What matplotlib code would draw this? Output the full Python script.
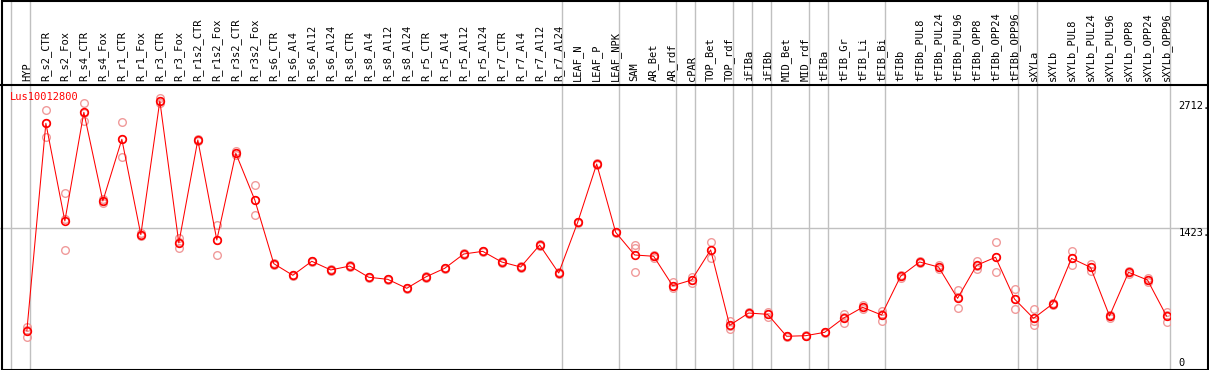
import matplotlib
matplotlib.use("Agg")
import matplotlib.pyplot as plt
from matplotlib.patches import Rectangle
from matplotlib.lines import Line2D

W, H = 1209, 370

gene = "Lus10012800"

samples = [
    "HYP",
    "R_s2_CTR", "R_s2_Fox", "R_s4_CTR", "R_s4_Fox", "R_r1_CTR", "R_r1_Fox",
    "R_r3_CTR", "R_r3_Fox", "R_r1s2_CTR", "R_r1s2_Fox", "R_r3s2_CTR", "R_r3s2_Fox",
    "R_s6_CTR", "R_s6_Al4", "R_s6_Al12", "R_s6_Al24",
    "R_s8_CTR", "R_s8_Al4", "R_s8_Al12", "R_s8_Al24",
    "R_r5_CTR", "R_r5_Al4", "R_r5_Al12", "R_r5_Al24",
    "R_r7_CTR", "R_r7_Al4", "R_r7_Al12", "R_r7_Al24",
    "LEAF_N", "LEAF_P", "LEAF_NPK",
    "SAM", "AR_Bet", "AR_rdf", "cPAR", "TOP_Bet", "TOP_rdf", "iFIBa", "iFIBb",
    "MID_Bet", "MID_rdf", "tFIBa", "tFIB_Gr", "tFIB_Li", "tFIB_Bi",
    "tFIBb", "tFIBb_PUL8", "tFIBb_PUL24", "tFIBb_PUL96",
    "tFIBb_OPP8", "tFIBb_OPP24", "tFIBb_OPP96",
    "sXYLa", "sXYLb", "sXYLb_PUL8", "sXYLb_PUL24", "sXYLb_PUL96",
    "sXYLb_OPP8", "sXYLb_OPP24", "sXYLb_OPP96",
]

means = [
    381, 2485, 1494, 2597, 1697, 2323, 1355, 2712, 1271, 2316, 1301, 2181, 1707,
    1061, 943, 1085, 997, 1037, 923, 902, 811, 926, 1014, 1159, 1186,
    1078, 1027, 1250, 966, 1481, 2072, 1379,
    1149, 1136, 837, 895, 1200, 435, 560, 547, 324, 330, 364, 509, 618, 540,
    933, 1078, 1027, 709, 1044, 1126, 702,
    506, 652, 1115, 1024, 530, 973, 895, 530,
]

replicates = [
    [421, 388, 320], [2620, 2492, 2343], [1775, 1510, 1197], [2692, 2590, 2509],
    [1714, 1700, 1674], [2499, 2330, 2140], [1370, 1355, 1340], [2745, 2712, 2689],
    [1318, 1280, 1217], [2330, 2316, 2302], [1453, 1301, 1149], [2204, 2181, 2164],
    [1856, 1710, 1555],
    [1070, 1061, 1052], [950, 943, 936], [1092, 1085, 1078], [1004, 997, 990],
    [1044, 1037, 1030], [930, 923, 916], [909, 902, 895], [818, 811, 804],
    [933, 926, 919], [1021, 1014, 1007], [1166, 1159, 1152], [1193, 1186, 1179],
    [1085, 1078, 1071], [1034, 1027, 1020], [1257, 1250, 1243], [973, 966, 959],
    [1488, 1481, 1474], [2079, 2072, 2065], [1386, 1379, 1372],
    [1250, 1217, 973], [1150, 1136, 1122], [872, 837, 811], [923, 895, 862],
    [1278, 1200, 1115], [482, 430, 395], [570, 560, 550], [573, 547, 523],
    [330, 324, 318], [336, 330, 324], [370, 364, 358], [547, 515, 462],
    [641, 618, 598], [584, 552, 482],
    [945, 933, 920], [1090, 1078, 1066], [1045, 1030, 1004], [791, 720, 614],
    [1085, 1040, 1007], [1278, 1127, 973], [801, 706, 598],
    [601, 478, 438], [665, 652, 640], [1186, 1115, 1044], [1058, 1024, 990],
    [540, 544, 506], [985, 973, 961], [915, 895, 875], [573, 545, 472],
]

# group boundaries (column index where a new tissue group starts)
group_edges = [0, 1, 29, 32, 35, 36, 38, 39, 40, 42, 43, 46, 53, 54, 61]

ytick_vals = [0, 1423, 2712]
ytick_text = ["0", "1423.", "2712."]

mono = "DejaVu Sans Mono"
grey = "#c0c0c0"

fig = plt.figure(figsize=(W / 100, H / 100), dpi=100)

# data area in pixels
x0, x1, ytop, ybot = 11, 1170, 85, 369
ax = fig.add_axes([x0 / W, 1 - ybot / H, (x1 - x0) / W, (ybot - ytop) / H])

off = 15.5 / 19
ax.set_xlim(-off - 0.02, 61 - off)
ax.set_ylim(-8, 2874)
for s in ax.spines.values():
    s.set_visible(False)

xs = list(range(len(samples)))

# vertical group separators, running up through the header
top_frac = ybot / (ybot - ytop)
for e in group_edges:
    ax.axvline(e - off, ymin=0, ymax=top_frac, color=grey, lw=1, clip_on=False, zorder=0)
ax.axhline(1423, xmin=-x0 / (x1 - x0), xmax=(1208 - x0) / (x1 - x0),
           color=grey, lw=1, clip_on=False, zorder=0)

for i, reps in enumerate(replicates):
    ax.plot([i] * len(reps), reps, "o", ms=5.5, mfc="none", mec="#f09a9a",
            mew=1.0, zorder=2)

ax.plot(xs, means, "-", color="red", lw=0.75, zorder=3)
ax.plot(xs, means, "o", ms=5.5, mfc="none", mec="red", mew=1.2, zorder=4)

ax.xaxis.tick_top()
ax.set_xticks(xs)
ax.set_xticklabels(samples, rotation=90, family=mono, fontsize=7.5)
ax.tick_params(axis="x", length=0, pad=3)

ax.yaxis.tick_right()
ax.set_yticks(ytick_vals)
ax.set_yticklabels(ytick_text, family=mono, fontsize=7.5)
ax.tick_params(axis="y", length=0, pad=6)
for lab, v in zip(ax.get_yticklabels(), ytick_vals):
    lab.set_va("bottom" if v == 0 else "top")

fig.text(9.5 / W, 1 - 97 / H, gene, color="red", family=mono, fontsize=7.5, va="center")

# outer frame and header separator
fig.patches.append(Rectangle((1.5 / W, 0.5 / H), 1206.5 / W, 369 / H, fill=False,
                             ec="black", lw=1.5, transform=fig.transFigure))
fig.lines.append(Line2D([0, 1208 / W], [1 - 85 / H, 1 - 85 / H], color="black",
                        lw=1.5, transform=fig.transFigure))

fig.savefig("out.png", dpi=100)
